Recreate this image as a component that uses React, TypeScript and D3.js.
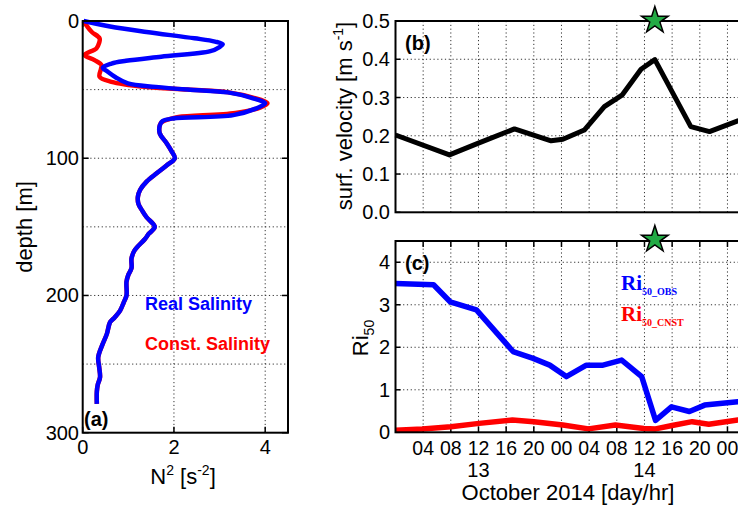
import React from 'react';
import * as d3 from 'd3';

// ---- panel (a): N^2 profiles, [depth (m), N^2 (s^-2)] ----
const realSalinity: [number, number][] = [
  [0, 0.02], [4, 0.6], [8, 1.4], [12.6, 2.45], [15, 2.9], [17, 3.07], [19, 3.0],
  [22, 2.8], [26, 1.72], [29, 0.95], [31, 0.63], [34, 0.44], [37, 0.55], [41, 0.72],
  [45.5, 0.99], [48, 1.6], [50, 2.3], [52, 3.18], [56, 3.7], [60, 4.0], [63, 3.85],
  [68.6, 3.3], [71, 1.98], [73, 1.75], [76, 1.69], [82, 1.69], [89, 1.84], [95, 1.95],
  [100, 2.02], [105, 1.85], [111, 1.62], [117, 1.4], [123, 1.26], [128, 1.21],
  [133, 1.22], [138, 1.3], [143, 1.4], [150, 1.58], [155, 1.45], [159, 1.36],
  [167, 1.14], [173, 1.07], [180, 1.07], [185, 1.0], [190, 0.96], [200, 0.96],
  [205, 0.9], [211, 0.82], [216, 0.7], [219.5, 0.6], [228, 0.53], [236, 0.43],
  [245, 0.34], [252, 0.36], [259.6, 0.38], [265, 0.33], [270, 0.31], [279, 0.31],
];
// constant salinity differs only in the upper 76 m
const constSalinityTop: [number, number][] = [
  [0, 0.02], [4, 0.1], [8, 0.2], [12.6, 0.37], [16, 0.36], [20, 0.3], [24.8, 0.04],
  [28.5, 0.26], [32, 0.41], [35, 0.4], [40.6, 0.37], [44.3, 0.63], [48, 1.36],
  [50, 2.3], [52, 3.2], [56, 3.75], [60, 4.05], [63, 3.9], [67, 3.35], [70, 2.1],
  [71.5, 1.9], [74, 1.72],
];
const constSalinity = [...constSalinityTop, ...realSalinity.filter((d) => d[0] >= 76)];

// ---- panels (b), (c): hours since 13 Oct 2014 00:00 ----
const velHours = [0, 7.8, 11.9, 17.2, 22.5, 24.2, 27.3, 30.2, 32.8, 35.5, 37.5, 42.7, 45.4, 49.5, 52];
const velocity = [0.202, 0.15, 0.18, 0.218, 0.187, 0.191, 0.215, 0.276, 0.307, 0.374, 0.399, 0.224, 0.211, 0.239, 0.25];

const obsHours = [0, 5.5, 7.9, 11.7, 17, 19.9, 22.3, 24.7, 27.6, 30, 32.7, 35.6, 37.6, 39.9, 42.5, 44.7, 49.5, 52];
const riObs = [3.5, 3.47, 3.07, 2.88, 1.9, 1.74, 1.58, 1.31, 1.58, 1.58, 1.7, 1.31, 0.28, 0.6, 0.49, 0.64, 0.72, 0.74];

const cnstHours = [0, 3.9, 8, 12.1, 16.9, 20, 24.2, 27.9, 31.8, 35.9, 37.6, 40, 42.9, 45.3, 49.5, 52];
const riCnst = [0.05, 0.08, 0.13, 0.21, 0.29, 0.25, 0.17, 0.08, 0.17, 0.09, 0.08, 0.16, 0.25, 0.19, 0.29, 0.3];

const starHour = 37.5;

const depthTicks = [0, 100, 200, 300];
const depthGrid = [50, 100, 150, 200, 250];
const n2Ticks = [0, 2, 4];
const n2Grid = [2, 4];
const velTicks = [0, 0.1, 0.2, 0.3, 0.4, 0.5];
const riTicks = [0, 1, 2, 3, 4];

const FONT = '"Liberation Sans", Arial, Helvetica, sans-serif';
const SERIF = '"Liberation Serif", "DejaVu Serif", serif';
const W = 738;
const H = 505;
const t0 = Date.UTC(2014, 9, 13);
const toDate = (h: number) => new Date(t0 + h * 3600e3);

const gridStyle = { stroke: '#333', strokeWidth: 1, strokeDasharray: '1.2 2.6', fill: 'none' };

export default function App() {
  // scales
  const xA = d3.scaleLinear().domain([0, 4.5]).range([82.7, 288]);
  const yA = d3.scaleLinear().domain([0, 300]).range([21, 432.7]);

  const xT = d3.scaleUtc().domain([toDate(0), toDate(56)]).range([395.5, 395.5 + 56 * 6.916]);
  const yB = d3.scaleLinear().domain([0, 0.5]).range([212.3, 21]);
  const yC = d3.scaleLinear().domain([0, 4.5]).range([432.3, 241]);

  const profile = d3
    .line<[number, number]>()
    .x((d) => xA(d[1]))
    .y((d) => yA(d[0]))
    .curve(d3.curveCatmullRom);

  const series = (hours: number[], vals: number[], y: d3.ScaleLinear<number, number>) =>
    d3
      .line<number>()
      .x((h) => xT(toDate(h)))
      .y((_, i) => y(vals[i]))(hours) || '';

  const hourTicks = xT.ticks(d3.utcHour.every(4)!).filter((d) => +d > t0);
  // only label what fits in the window (the panel runs past the right edge)
  const hourLabels = hourTicks.filter((d) => xT(d) + 10 <= W);
  const dayTicks = d3.utcDay
    .range(toDate(0), toDate(56))
    .map((d) => d3.utcHour.offset(d, 12))
    .filter((d) => xT(d) + 10 <= W);
  const fmtH = d3.utcFormat('%H');
  const fmtD = d3.utcFormat('%-d');

  const star = d3.symbol().type(d3.symbolStar).size(220)() || '';
  const sx = xT(toDate(starHour));

  const [ax0, ax1] = xA.range();
  const [ay0, ay1] = yA.range();
  const bx0 = xT.range()[0];
  const bx1 = xT.range()[1];

  return (
    <svg
      width={W}
      height={H}
      style={{ position: 'absolute', left: 0, top: 0, background: '#fff' }}
      fontFamily={FONT}
    >
      <rect width={W} height={H} fill="#fff" />

      {/* ---------- panel (a) ---------- */}
      {depthGrid.map((d) => (
        <line key={'ag' + d} x1={ax0} x2={ax1} y1={yA(d)} y2={yA(d)} {...gridStyle} />
      ))}
      {n2Grid.map((v) => (
        <line key={'agx' + v} x1={xA(v)} x2={xA(v)} y1={ay0} y2={ay1} {...gridStyle} />
      ))}
      {depthTicks.map((d) => (
        <g key={'at' + d}>
          <line x1={ax0} x2={ax0 + 6} y1={yA(d)} y2={yA(d)} stroke="#000" strokeWidth={1.5} />
          <line x1={ax1} x2={ax1 - 6} y1={yA(d)} y2={yA(d)} stroke="#000" strokeWidth={1.5} />
          <text x={79} y={yA(d) + 7} textAnchor="end" fontSize={20}>
            {d}
          </text>
        </g>
      ))}
      {n2Ticks.map((v) => (
        <g key={'axt' + v}>
          <line x1={xA(v)} x2={xA(v)} y1={ay1} y2={ay1 - 6} stroke="#000" strokeWidth={1.5} />
          <line x1={xA(v)} x2={xA(v)} y1={ay0} y2={ay0 + 6} stroke="#000" strokeWidth={1.5} />
          <text x={xA(v)} y={454} textAnchor="middle" fontSize={20}>
            {v}
          </text>
        </g>
      ))}
      <path d={profile(constSalinity) || ''} fill="none" stroke="#ff0000" strokeWidth={4.5} strokeLinejoin="round" />
      <path d={profile(realSalinity) || ''} fill="none" stroke="#0000ff" strokeWidth={4.5} strokeLinejoin="round" />
      <rect x={ax0} y={ay0} width={ax1 - ax0} height={ay1 - ay0} fill="none" stroke="#000" strokeWidth={2} />
      <text x={84} y={426} fontSize={20} fontWeight="bold">(a)</text>
      <text x={145} y={310} fontSize={18} fontWeight="bold" fill="#0000ff">Real Salinity</text>
      <text x={145} y={350} fontSize={18} fontWeight="bold" fill="#ff0000">Const. Salinity</text>
      <text transform="translate(32,227) rotate(-90)" textAnchor="middle" fontSize={22}>
        depth [m]
      </text>
      <text x={183} y={484} textAnchor="middle" fontSize={22}>
        N<tspan dy={-9} fontSize={14}>2</tspan>
        <tspan dy={9}> [s</tspan>
        <tspan dy={-9} fontSize={14}>-2</tspan>
        <tspan dy={9}>]</tspan>
      </text>

      {/* ---------- panel (b) ---------- */}
      {velTicks.map((v) => (
        <g key={'bt' + v}>
          {v > 0 && v < 0.5 && <line x1={bx0} x2={bx1} y1={yB(v)} y2={yB(v)} {...gridStyle} />}
          <line x1={bx0} x2={bx0 + 5} y1={yB(v)} y2={yB(v)} stroke="#000" strokeWidth={1.5} />
          <text x={390} y={yB(v) + 7} textAnchor="end" fontSize={20}>
            {v.toFixed(1)}
          </text>
        </g>
      ))}
      {hourTicks.map((d) => (
        <line key={'bg' + +d} x1={xT(d)} x2={xT(d)} y1={yB(0.5)} y2={yB(0)} {...gridStyle} />
      ))}
      <path d={series(velHours, velocity, yB)} fill="none" stroke="#000" strokeWidth={5} strokeLinejoin="round" />
      <rect x={bx0} y={yB(0.5)} width={bx1 - bx0} height={yB(0) - yB(0.5)} fill="none" stroke="#000" strokeWidth={2} />
      <text x={405} y={50} fontSize={20} fontWeight="bold">(b)</text>
      <text transform="translate(352,116) rotate(-90)" textAnchor="middle" fontSize={22}>
        surf. velocity [m s<tspan dy={-9} fontSize={14}>-1</tspan>
        <tspan dy={9}>]</tspan>
      </text>
      <path d={star} transform={`translate(${sx},${yB(0.5) - 0.5})`} fill="#22aa44" stroke="#000" strokeWidth={1.5} />

      {/* ---------- panel (c) ---------- */}
      {riTicks.map((v) => (
        <g key={'ct' + v}>
          {v > 0 && <line x1={bx0} x2={bx1} y1={yC(v)} y2={yC(v)} {...gridStyle} />}
          <line x1={bx0} x2={bx0 + 5} y1={yC(v)} y2={yC(v)} stroke="#000" strokeWidth={1.5} />
          <text x={390} y={yC(v) + 7} textAnchor="end" fontSize={20}>
            {v}
          </text>
        </g>
      ))}
      {hourTicks.map((d) => (
        <g key={'cg' + +d}>
          <line x1={xT(d)} x2={xT(d)} y1={yC(4.5)} y2={yC(0)} {...gridStyle} />
          <line x1={xT(d)} x2={xT(d)} y1={yC(4.5)} y2={yC(4.5) + 6} stroke="#000" strokeWidth={1.5} />
          <line x1={xT(d)} x2={xT(d)} y1={yC(0)} y2={yC(0) - 6} stroke="#000" strokeWidth={1.5} />
        </g>
      ))}
      {hourLabels.map((d) => (
        <text key={'cl' + +d} x={xT(d)} y={455} textAnchor="middle" fontSize={19.5}>
          {fmtH(d)}
        </text>
      ))}
      {dayTicks.map((d) => (
        <text key={'cd' + +d} x={xT(d)} y={477} textAnchor="middle" fontSize={20}>
          {fmtD(d)}
        </text>
      ))}
      <path d={series(cnstHours, riCnst, yC)} fill="none" stroke="#ff0000" strokeWidth={5.5} strokeLinejoin="round" />
      <path d={series(obsHours, riObs, yC)} fill="none" stroke="#0000ff" strokeWidth={5.5} strokeLinejoin="round" />
      <rect x={bx0} y={yC(4.5)} width={bx1 - bx0} height={yC(0) - yC(4.5)} fill="none" stroke="#000" strokeWidth={2} />
      <text x={405} y={270} fontSize={20} fontWeight="bold">(c)</text>
      <text x={621} y={290} fontFamily={SERIF} fontWeight="bold" fontSize={21} fill="#0000ff">
        Ri<tspan dy={5} fontSize={10}>50_OBS</tspan>
      </text>
      <text x={621} y={321} fontFamily={SERIF} fontWeight="bold" fontSize={21} fill="#ff0000">
        Ri<tspan dy={5} fontSize={10}>50_CNST</tspan>
      </text>
      <text transform="translate(368,338) rotate(-90)" textAnchor="middle" fontSize={22}>
        Ri<tspan dy={6} fontSize={14}>50</tspan>
      </text>
      <text x={568} y={500} textAnchor="middle" fontSize={22}>
        October 2014 [day/hr]
      </text>
      <path d={star} transform={`translate(${sx},${yC(4.5) - 1.5})`} fill="#22aa44" stroke="#000" strokeWidth={1.5} />
    </svg>
  );
}
